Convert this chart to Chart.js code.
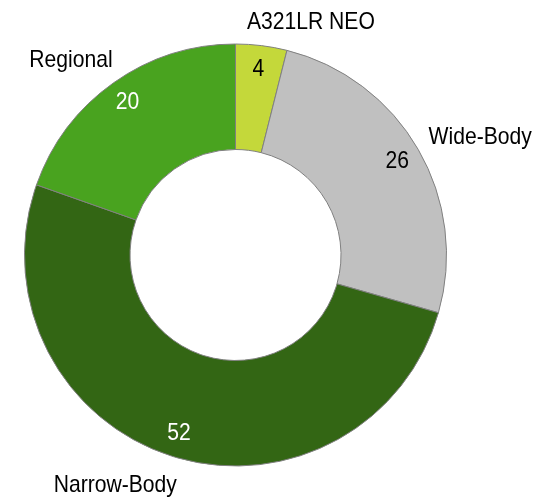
<!DOCTYPE html>
<html>
<head>
<meta charset="utf-8">
<script src="https://cdn.jsdelivr.net/npm/chart.js@4"></script>
<style>
  html, body { margin: 0; padding: 0; background: #fff; }
  #wrap { width: 535px; height: 497px; position: relative; }
</style>
</head>
<body>
<div id="wrap"><canvas id="fleet"></canvas></div>
<script>
"use strict";

// fleet split, clockwise from 12 o'clock
const categories = ["A321LR NEO", "Wide-Body", "Narrow-Body", "Regional"];
const fleetCounts = [4, 26, 52, 20];
const sliceColors = ["#c4d83a", "#c0c0c0", "#336614", "#49a31f"];
const valueColors = ["#000", "#000", "#fff", "#fff"];
// small per-label shifts for the outside names (Excel-ish placement)
const nameNudge = [[-16, -1], [0, -1], [9, 8], [6, -4]];

// no narrow font installed, so squeeze a regular sans horizontally
const FONT = "24px 'Liberation Sans', Arial, sans-serif";
const SQUEEZE = 0.88;

function narrowText(ctx, txt, x, y) {
    ctx.save();
    ctx.translate(x, y);
    ctx.scale(SQUEEZE, 1);
    ctx.fillText(txt, 0, 0);
    ctx.restore();
}

const sliceLabels = {
    id: "sliceLabels",
    afterDatasetsDraw(chart) {
        const ctx = chart.ctx;
        const meta = chart.getDatasetMeta(0);
        ctx.save();
        ctx.font = FONT;
        ctx.textBaseline = "middle";
        meta.data.forEach(function(arc, i) {
            const p = arc.getProps(["x", "y", "startAngle", "endAngle", "outerRadius"], true);
            const mid = (p.startAngle + p.endAngle) / 2;
            const c = Math.cos(mid), s = Math.sin(mid);

            // value near outer edge
            const rv = p.outerRadius * 0.885;
            ctx.fillStyle = valueColors[i];
            ctx.textAlign = "center";
            narrowText(ctx, String(fleetCounts[i]), p.x + c * rv, p.y + s * rv);

            // category name outside
            const ro = p.outerRadius + 12;
            let px = p.x + c * ro + nameNudge[i][0];
            let py = p.y + s * ro + nameNudge[i][1];
            ctx.fillStyle = "#000";
            ctx.textAlign = c >= 0 ? "left" : "right";
            narrowText(ctx, categories[i], px, py + s * 10);
        });
        ctx.restore();
    }
};

new Chart(document.getElementById("fleet"), {
    type: "doughnut",
    data: {
        labels: categories,
        datasets: [{
            data: fleetCounts,
            backgroundColor: sliceColors,
            borderColor: "#808080",
            borderWidth: 1
        }]
    },
    options: {
        responsive: true,
        maintainAspectRatio: false,
        animation: false,
        cutout: "50%",
        layout: { padding: { left: 24, right: 88, top: 43, bottom: 30 } },
        plugins: {
            legend: { display: false },
            tooltip: { enabled: false }
        }
    },
    plugins: [sliceLabels]
});
</script>
</body>
</html>
